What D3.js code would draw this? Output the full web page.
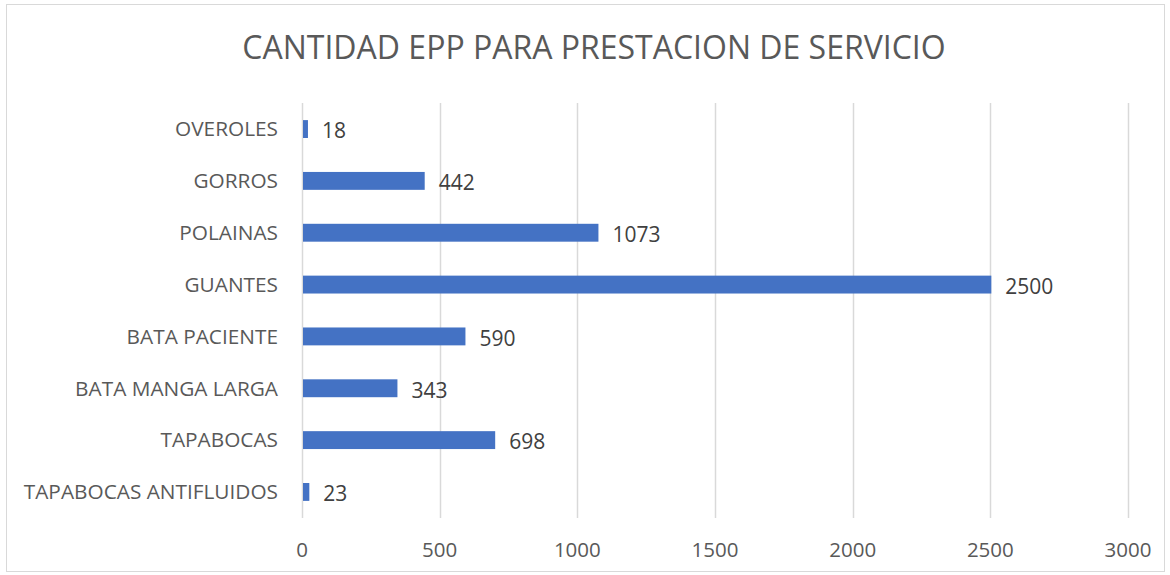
<!DOCTYPE html>
<html>
<head>
<meta charset="utf-8">
<script src="https://cdn.jsdelivr.net/npm/d3@7"></script>
<style>
  body { margin: 0; background: #fff; }
  svg { display: block; font-family: "Open Sans", "Noto Sans", sans-serif; }
</style>
</head>
<body>
<svg id="chart" width="1170" height="575"></svg>
<script>
// datos del gráfico
const categorias = ["OVEROLES", "GORROS", "POLAINAS", "GUANTES", "BATA PACIENTE", "BATA MANGA LARGA", "TAPABOCAS", "TAPABOCAS ANTIFLUIDOS"];
const cantidades = [18, 442, 1073, 2500, 590, 343, 698, 23];
const ticksX = [0, 500, 1000, 1500, 2000, 2500, 3000];
const titulo = "CANTIDAD EPP PARA PRESTACION DE SERVICIO";

const svg = d3.select("#chart");
const W = 1170, H = 575;

// borde del área del gráfico
svg.append("rect")
    .attr("x", 6.5).attr("y", 4.5)
    .attr("width", W - 12).attr("height", H - 8)
    .attr("fill", "#fff")
    .attr("stroke", "#d9d9d9")
    .attr("stroke-width", 1);

svg.append("text")
    .attr("x", 594).attr("y", 59)
    .attr("text-anchor", "middle")
    .attr("fill", "#595959")
    .attr("font-size", 32)
    .text(titulo);

const plotLeft = 302, plotRight = 1128, plotTop = 103, plotBottom = 518;

const x = d3.scaleLinear().domain([0, 3000]).range([plotLeft, plotRight]);
const y = d3.scaleBand().domain(categorias).range([plotTop, plotBottom]).paddingInner(0.655).paddingOuter(0.33);

// líneas de cuadrícula
svg.append("g")
    .selectAll("line")
    .data(ticksX)
    .enter()
    .append("line")
    .attr("x1", d => Math.round(x(d)) + 0.5)
    .attr("x2", d => Math.round(x(d)) + 0.5)
    .attr("y1", plotTop)
    .attr("y2", plotBottom)
    .attr("stroke", "#d9d9d9")
    .attr("stroke-width", 1.5);

// etiquetas del eje x
svg.append("g")
    .selectAll("text")
    .data(ticksX)
    .enter()
    .append("text")
    .attr("x", d => x(d))
    .attr("y", 557)
    .attr("text-anchor", "middle")
    .attr("fill", "#595959")
    .attr("font-size", 20.5)
    .text(d => d);

// barras
svg.append("g")
    .selectAll("rect")
    .data(cantidades)
    .enter()
    .append("rect")
    .attr("x", x(0) + 1)
    .attr("y", (d, i) => y(categorias[i]))
    .attr("width", d => x(d) - x(0))
    .attr("height", y.bandwidth())
    .attr("fill", "#4472c4");

// etiquetas de categoría
svg.append("g")
    .selectAll("text")
    .data(categorias)
    .enter()
    .append("text")
    .attr("x", 278)
    .attr("y", d => y(d) + y.bandwidth() / 2)
    .attr("dy", "0.35em")
    .attr("text-anchor", "end")
    .attr("fill", "#595959")
    .attr("font-size", 20.8)
    .text(d => d);

// etiquetas de valor
svg.append("g")
    .selectAll("text")
    .data(cantidades)
    .enter()
    .append("text")
    .attr("x", d => x(d) + 15)
    .attr("y", (d, i) => y(categorias[i]) + y.bandwidth() / 2 + 2)
    .attr("dy", "0.35em")
    .attr("fill", "#404040")
    .attr("font-size", 21)
    .text(d => d);
</script>
</body>
</html>
